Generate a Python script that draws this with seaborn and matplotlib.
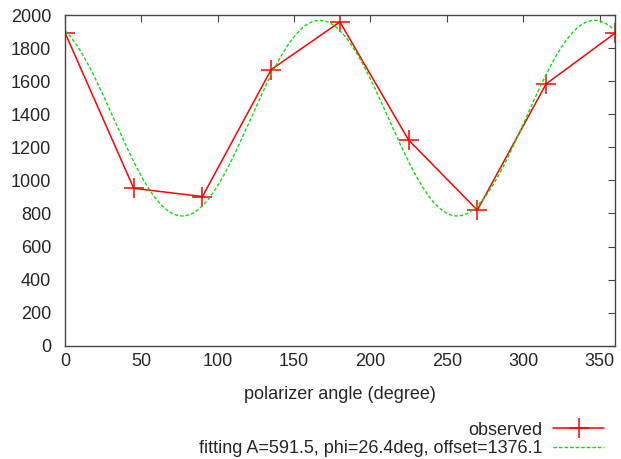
import numpy as np
import pandas as pd
import matplotlib
matplotlib.use('Agg')
import matplotlib.pyplot as plt
import seaborn as sns

# observed intensity vs polarizer angle
angles = [0, 45, 90, 135, 180, 225, 270, 315, 360]
observed = [1893, 952, 902, 1670, 1958, 1244, 820, 1583, 1889]

# fitting parameters (shown in legend)
fit_A = 591.5
fit_phi = 26.4
fit_offset = 1376.1

sns.set_style('white')
plt.rcParams['font.family'] = ['Liberation Sans', 'DejaVu Sans']

obs_df = pd.DataFrame({'angle': angles, 'value': observed})
theta = np.linspace(0, 360, 721)
fit_df = pd.DataFrame({'angle': theta,
                       'value': fit_offset + fit_A * np.cos(np.radians(2 * theta + fit_phi))})

fig = plt.figure(figsize=(6.21, 4.59), dpi=100)
ax = fig.add_axes([0.1047, 0.2468, 0.8853, 0.7205])

sns.lineplot(data=obs_df, x='angle', y='value', ax=ax, color='#ff0000', lw=1.1,
             marker='+', markersize=14, markeredgewidth=1.1, markeredgecolor='#ff0000',
             label='observed')
sns.lineplot(data=fit_df, x='angle', y='value', ax=ax, color='#00e600', lw=1.0,
             label='fitting A=591.5, phi=26.4deg, offset=1376.1')
ax.lines[-1].set_dashes((2.5, 1.5))

ax.set_xlim(0, 360)
ax.set_ylim(0, 2000)
ax.set_xticks(range(0, 351, 50))
ax.set_yticks(range(0, 2001, 200))
ax.set_xlabel('polarizer angle (degree)', fontsize=13, labelpad=12)
ax.set_ylabel('')
ax.tick_params(direction='in', length=5, width=0.8, color='#444444',
               top=True, right=True, labelsize=13)
ax.tick_params(axis='y', pad=10)
ax.tick_params(axis='x', pad=5)
for s in ax.spines.values():
    s.set_color('#444444')
    s.set_linewidth(1.0)

leg = ax.legend(loc='lower right', bbox_to_anchor=(0.99, -0.02), bbox_transform=fig.transFigure,
                frameon=False, markerfirst=False, fontsize=13, handlelength=2.8,
                handletextpad=0.6, labelspacing=0.1, borderaxespad=0.2)

fig.savefig('out.png', dpi=100)
